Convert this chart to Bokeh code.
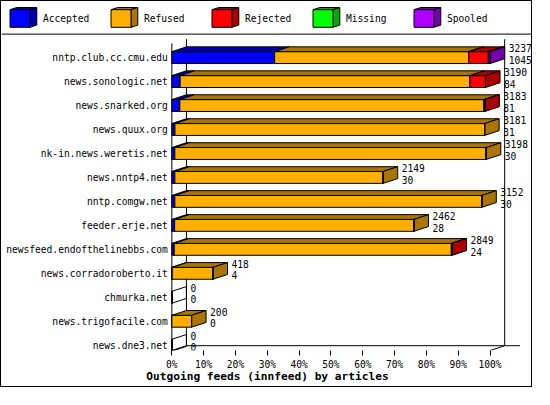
from bokeh.plotting import figure
from bokeh.models import ColumnDataSource, Range1d, FixedTicker, Legend, LegendItem, Span
from bokeh.core.properties import value
from bokeh.embed import file_html
from bokeh.resources import INLINE

# ---------------- data ----------------
hosts = ["nntp.club.cc.cmu.edu", "news.sonologic.net", "news.snarked.org",
         "news.quux.org", "nk-in.news.weretis.net", "news.nntp4.net",
         "nntp.comgw.net", "feeder.erje.net", "newsfeed.endofthelinebbs.com",
         "news.corradoroberto.it", "chmurka.net", "news.trigofacile.com",
         "news.dne3.net"]
offered = [3237, 3190, 3183, 3181, 3198, 2149, 3152, 2462, 2849, 418, 0, 200, 0]
accepted = [1045, 84, 81, 31, 30, 30, 30, 28, 24, 4, 0, 0, 0]
refused = [1975, 2948, 3094, 3150, 3168, 2119, 3122, 2434, 2819, 414, 0, 200, 0]
rejected = [200, 158, 8, 0, 0, 0, 0, 0, 6, 0, 0, 0, 0]
missing = [0, 0, 0, 0, 0, 0, 0, 0, 0, 0, 0, 0, 0]
spooled = [17, 0, 0, 0, 0, 0, 0, 0, 0, 0, 0, 0, 0]
series_names = ["Accepted", "Refused", "Rejected", "Missing", "Spooled"]
front_colors = ["#0000FF", "#FFAF00", "#FF0000", "#00FF00", "#AF00FF"]
side_colors = ["#0000AA", "#AA7400", "#AA0000", "#00AA00", "#7400AA"]
x_ticks = [0, 10, 20, 30, 40, 50, 60, 70, 80, 90, 100]
x_tick_labels = ["0%", "10%", "20%", "30%", "40%", "50%", "60%", "70%", "80%", "90%", "100%"]
title_text = "Outgoing feeds (innfeed) by articles"

# ---------------- geometry ----------------
FONT = "DejaVu Sans Mono"
DX = 4.576      # 3D depth, in percent units
DY = -0.2       # 3D depth, in row units
HALF = 0.248    # half height of a bar front face (rows)
X_START, X_END = -53.54, 113.64
Y_TOP, Y_BOTTOM = -2.34, 12.22
WALL_TOP = -0.768
FLOOR_BACK = Y_BOTTOM + DY
FIG_W, FIG_H = 532, 387
FRAME_W, FRAME_H = 532, 349

p = figure(width=FIG_W, height=FIG_H, output_backend="svg", toolbar_location=None,
           x_range=Range1d(X_START, X_END), y_range=Range1d(Y_BOTTOM, Y_TOP),
           y_axis_location=None, title_location=None,
           min_border_left=0, min_border_right=0, min_border_top=0,
           min_border_bottom=FIG_H - FRAME_H)
p.styles = {"border": "1px solid black"}
p.grid.visible = False
p.outline_line_color = None
p.background_fill_color = "white"
p.border_fill_color = "white"

# x axis (with the chart caption as its label)
xa = p.xaxis[0]
xa.ticker = FixedTicker(ticks=x_ticks)
xa.major_label_overrides = {t: lab for t, lab in zip(x_ticks, x_tick_labels)}
xa.axis_line_color = None
xa.major_tick_in = 0
xa.major_tick_out = 5
xa.major_tick_line_color = "black"
xa.minor_tick_line_color = None
xa.major_label_standoff = 3
xa.major_label_text_font = FONT
xa.major_label_text_font_size = "9.6px"
xa.major_label_text_color = "black"
xa.axis_label = title_text
xa.axis_label_standoff = -3
xa.axis_label_text_font = FONT
xa.axis_label_text_font_style = "bold"
xa.axis_label_text_font_size = "11.2px"
xa.axis_label_text_color = "black"

# back wall (U shape), floor, front axis
p.line(x=[DX, DX, 100 + DX, 100 + DX], y=[WALL_TOP, FLOOR_BACK, FLOOR_BACK, WALL_TOP],
       line_color="black", line_width=1)
p.line(x=[100 + DX, 109.4], y=[FLOOR_BACK, FLOOR_BACK], line_color="black", line_width=1)
p.line(x=[0, 0, DX], y=[-0.59, Y_BOTTOM, FLOOR_BACK], line_color="black", line_width=1)
p.line(x=[100, 100 + DX], y=[Y_BOTTOM, FLOOR_BACK], line_color="black", line_width=1)

# legend separator
p.add_layout(Span(location=-0.98, dimension="width", line_color="black", line_width=1))

# bars
max_off = max(offered)
series = [accepted, refused, rejected, missing, spooled]
n = len(hosts)
cum = [0.0] * n
legend_items = []
for k, vals in enumerate(series):
    left, right, ys = [], [], []
    top_xs, top_ys, side_xs, side_ys = [], [], [], []
    for i in range(n):
        l = cum[i] / max_off * 100
        cum[i] += vals[i]
        r = cum[i] / max_off * 100
        left.append(l); right.append(r); ys.append(i)
        if vals[i] <= 0:
            continue
        t, b = i - HALF, i + HALF
        top_xs.append([l, r, r + DX, l + DX]); top_ys.append([t, t, t + DY, t + DY])
        side_xs.append([r, r, r + DX, r + DX]); side_ys.append([t, b, b + DY, t + DY])
    src = ColumnDataSource(dict(left=left, right=right, y=ys))
    fr = p.hbar(y="y", left="left", right="right", height=2 * HALF, source=src,
                fill_color=front_colors[k], line_color="black", line_width=1)
    p.patches(top_xs, top_ys, fill_color=side_colors[k], line_color="black", line_width=1)
    p.patches(side_xs, side_ys, fill_color=side_colors[k], line_color="black", line_width=1)
    legend_items.append(LegendItem(label=series_names[k], renderers=[fr]))

# empty rows: outline only
ex, ey = [], []
for i in range(n):
    if offered[i] == 0:
        t, b = i - HALF, i + HALF
        ex.append([0, 0, DX, DX]); ey.append([t, b, b + DY, t + DY])
p.patches(ex, ey, fill_color=None, line_color="black", line_width=1)

# value labels
ends = [c / max_off * 100 + DX for c in cum]
lab_src = ColumnDataSource(dict(
    x=ends, y1=[i - 0.39 for i in range(n)], y2=[i + 0.09 for i in range(n)],
    t1=[str(v) for v in offered], t2=[str(v) for v in accepted]))
p.text(x="x", y="y1", text="t1", source=lab_src, x_offset=4, text_align="left",
       text_baseline="middle", text_font=value(FONT), text_font_size="9.6px", text_color="black")
p.text(x="x", y="y2", text="t2", source=lab_src, x_offset=4, text_align="left",
       text_baseline="middle", text_font=value(FONT), text_font_size="9.6px", text_color="black")

# category labels
cat_src = ColumnDataSource(dict(x=[0] * n, y=list(range(n)), t=hosts))
p.text(x="x", y="y", text="t", source=cat_src, x_offset=-4, text_align="right",
       text_baseline="middle", text_font=value(FONT), text_font_size="9.6px", text_color="black")

# legend
MARGIN, GW, GH, STANDOFF, LW, SPACING = 6, 25, 22, 11, 55, 10
legend = Legend(items=legend_items, orientation="horizontal", location="top_left",
                margin=MARGIN, padding=0, spacing=SPACING, glyph_width=GW, glyph_height=GH,
                label_standoff=STANDOFF, label_width=LW,
                border_line_color=None, background_fill_alpha=0,
                label_text_font=FONT, label_text_font_size="9.6px",
                label_text_color="black")
p.add_layout(legend)

# 3D depth of the legend boxes (drawn behind the legend's front squares)
def fx(px):
    return X_START + px * (X_END - X_START) / FRAME_W

def fy(py):
    return Y_TOP + py * (Y_BOTTOM - Y_TOP) / FRAME_H

stride = GW + STANDOFF + LW + SPACING
lg_top_xs, lg_top_ys, lg_side_xs, lg_side_ys = [], [], [], []
for k in range(len(series_names)):
    xl = MARGIN + k * stride + 0.1 * GW
    xr = MARGIN + k * stride + 0.9 * GW
    yt = MARGIN + 0.1 * GH
    yb = MARGIN + 0.9 * GH
    ddx, ddy = 6.8, -2.2
    lg_top_xs.append([fx(xl), fx(xr), fx(xr + ddx), fx(xl + ddx)])
    lg_top_ys.append([fy(yt), fy(yt), fy(yt + ddy), fy(yt + ddy)])
    lg_side_xs.append([fx(xr), fx(xr), fx(xr + ddx), fx(xr + ddx)])
    lg_side_ys.append([fy(yt), fy(yb), fy(yb + ddy), fy(yt + ddy)])
p.patches(lg_top_xs, lg_top_ys, fill_color=side_colors, line_color="black", line_width=1)
p.patches(lg_side_xs, lg_side_ys, fill_color=side_colors, line_color="black", line_width=1)

open("out.html", "w").write(file_html(p, INLINE))
